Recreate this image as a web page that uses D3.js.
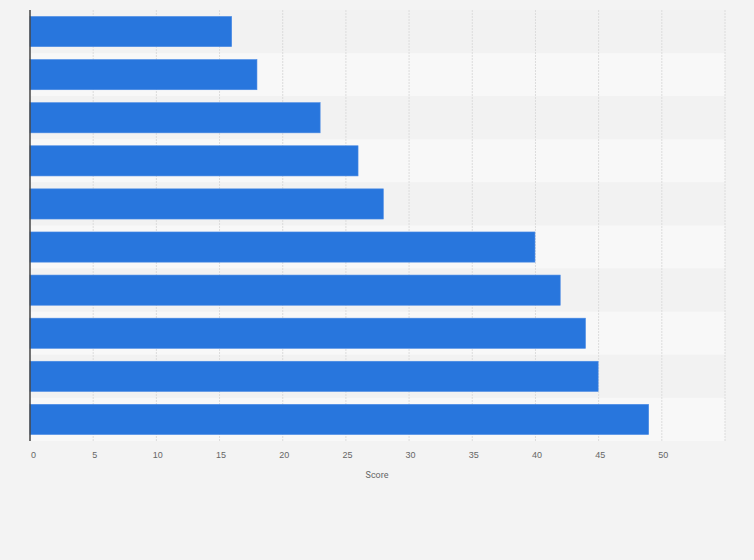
<!DOCTYPE html>
<html><head><meta charset="utf-8">
<script src="https://cdn.jsdelivr.net/npm/d3@7"></script>
<style>body{margin:0;background:#f3f3f3;}svg{display:block;font-family:Roboto,"Open Sans",Arial,sans-serif;}</style>
</head><body>
<svg id="c" width="754" height="560"></svg>
<script>
const categories = ["A","B","C","D","E","F","G","H","I","J"];
const values = [16, 18, 23, 26, 28, 40, 42, 44, 45, 49];
const tickValues = [0,5,10,15,20,25,30,35,40,45,50];
const axisTitle = "Score";

const svg = d3.select("#c");
const m = {l:30, r:29, t:10, b:119};
const W = 754 - m.l - m.r, H = 560 - m.t - m.b;
const x = d3.scaleLinear().domain([0,55]).range([0,W]);
const y = d3.scaleBand().domain(categories).range([0,H]).paddingInner(0.3).paddingOuter(0.15);
const yr = d3.scaleBand().domain(categories).range([0,H]);
const g = svg.append("g").attr("transform",`translate(${m.l},${m.t})`);

g.selectAll("rect.row").data(categories).join("rect")
  .attr("x",0).attr("width",W).attr("y",d=>yr(d)).attr("height",yr.bandwidth())
  .attr("fill",(d,i)=> i%2 ? "#f8f8f8" : "#f2f2f2");

g.selectAll("line.grid").data([...tickValues.slice(1),55]).join("line")
  .attr("x1",d=>x(d)).attr("x2",d=>x(d)).attr("y1",0).attr("y2",H)
  .attr("stroke","#dcdcdc").attr("stroke-dasharray","2,1").attr("stroke-width",1);

g.selectAll("rect.bar").data(values).join("rect")
  .attr("x",0).attr("y",(d,i)=>y(categories[i])).attr("height",y.bandwidth())
  .attr("width",d=>x(d)-0.5).attr("fill","#2876dd")
  .attr("stroke","#4a8ae4").attr("stroke-width",0.6);

g.append("line").attr("x1",0).attr("x2",0).attr("y1",0).attr("y2",H)
  .attr("stroke","#444").attr("stroke-width",1.5);

const ax = g.append("g").attr("transform",`translate(0,${H})`)
  .call(d3.axisBottom(x).tickValues(tickValues).tickSize(0).tickPadding(11));
ax.select(".domain").remove();
ax.selectAll("text").attr("fill","#666").attr("font-size","9px")
  .attr("dx",d=> d===0 ? 3 : 1);

g.append("text").attr("x",377-m.l).attr("y",H+37).attr("text-anchor","middle")
  .attr("fill","#666").attr("font-size","9px").text(axisTitle);
</script>
</body></html>
